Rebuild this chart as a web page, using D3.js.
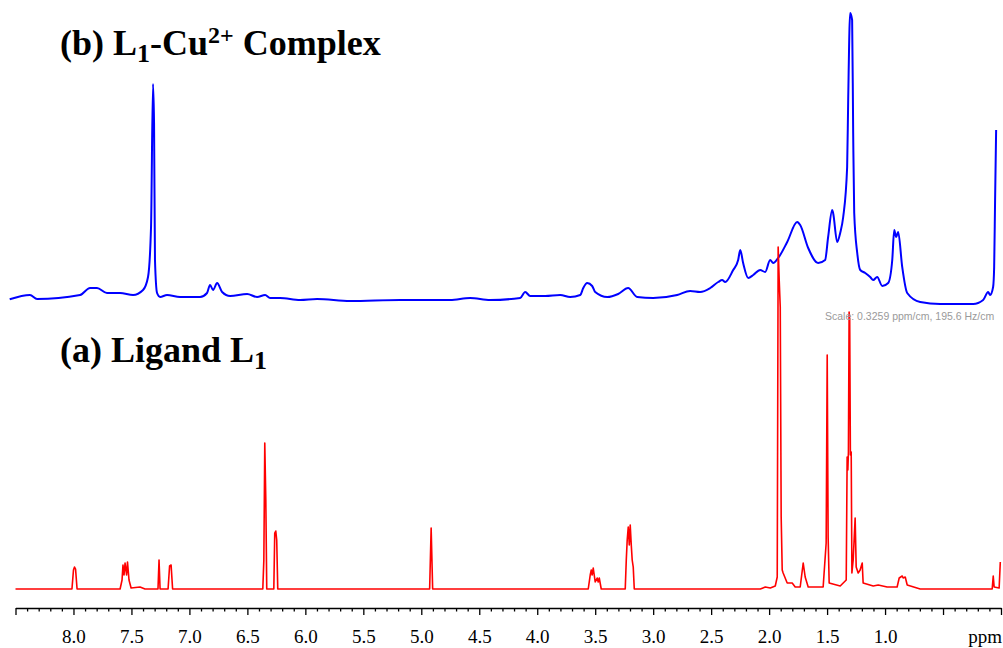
<!DOCTYPE html>
<html><head><meta charset="utf-8">
<script src="https://cdn.jsdelivr.net/npm/d3@7"></script>
<style>body{margin:0;background:#fff;overflow:hidden}</style>
</head><body>
<svg id="chart" width="1003" height="648"></svg>
<script>
// (b) L1-Cu2+ complex spectrum: [ppm, intensity]
const complexSpectrum = [
 [8.55,0.7],[8.375,5],[8.314,1],[7.943,5],[7.857,12],[7.797,12],[7.711,7],[7.598,7],[7.486,5],[7.400,10],
 [7.357,23],[7.331,73],[7.314,216],[7.305,177],[7.297,40],[7.279,7],[7.253,3],[7.193,5],[7.081,3],[6.908,3],
 [6.848,7],[6.822,15],[6.796,10],[6.761,17],[6.718,8],[6.649,4],[6.502,6],[6.416,3],[6.347,5],[6.304,2],
 [6.218,2],[6.045,0],[5.899,1],[5.614,-1],[5.183,0],[4.751,0],[4.579,2],[4.406,0],[4.147,2],[4.104,8],
 [4.061,4],[3.931,4],[3.802,5],[3.716,3],[3.629,5],[3.603,12],[3.569,17],[3.526,14],[3.500,8],[3.396,3],
 [3.302,6],[3.216,12],[3.138,3],[3.000,2],[2.793,5],[2.681,9],[2.595,8],[2.508,12],[2.439,18],[2.405,20],
 [2.379,18],[2.310,30],[2.267,40],[2.249,50],[2.224,37],[2.180,22],[2.137,25],[2.077,30],[2.034,28],[1.991,40],
 [1.965,37],[1.922,42],[1.844,58],[1.758,78],[1.732,75],[1.663,52],[1.577,37],[1.517,40],[1.491,63],[1.456,90],
 [1.448,87],[1.413,58],[1.387,67],[1.361,83],[1.327,133],[1.318,200],[1.301,287],[1.284,280],[1.275,167],[1.266,87],
 [1.240,47],[1.214,30],[1.171,27],[1.128,23],[1.102,20],[1.068,23],[1.024,14],[0.973,17],[0.938,40],[0.921,70],
 [0.904,63],[0.887,68],[0.852,33],[0.809,7],[0.697,-2],[0.525,-4],[0.240,-4],[0.154,0],[0.111,8],[0.094,5],
 [0.068,13],[0.059,33],[0.051,100],[0.042,170]
];
// (a) Ligand L1 spectrum: [ppm, intensity]
const ligandSpectrum = [
 [8.50,0],[8.013,0],[8.0,19],[7.991,22],[7.982,20],[7.969,0],[7.598,0],[7.581,9],[7.573,24],[7.564,14],
 [7.555,26],[7.542,14],[7.534,27],[7.521,9],[7.503,1],[7.426,2],[7.383,0],[7.271,0],[7.262,29],[7.253,0],
 [7.184,0],[7.171,23],[7.158,24],[7.145,0],[6.367,0],[6.358,29],[6.350,146],[6.341,89],[6.333,0],[6.272,0],
 [6.264,56],[6.255,58],[6.247,49],[6.238,0],[4.928,0],[4.915,61],[4.902,0],[3.560,0],[3.543,14],[3.534,19],
 [3.526,14],[3.517,21],[3.500,7],[3.483,11],[3.474,7],[3.465,11],[3.448,0],[3.241,0],[3.232,29],[3.224,49],
 [3.215,62],[3.206,44],[3.198,64],[3.189,44],[3.181,29],[3.172,22],[3.163,0],[2.076,0],[2.033,2],[1.990,1],
 [1.947,3],[1.930,12],[1.922,342],[1.913,309],[1.904,282],[1.896,72],[1.887,19],[1.879,16],[1.844,6],[1.801,6],
 [1.775,2],[1.732,2],[1.706,26],[1.689,12],[1.663,2],[1.534,2],[1.508,46],[1.499,234],[1.491,52],[1.482,6],
 [1.387,3],[1.335,9],[1.327,132],[1.321,119],[1.316,137],[1.310,277],[1.305,269],[1.299,134],[1.292,137],[1.286,16],
 [1.275,29],[1.258,71],[1.249,22],[1.232,16],[1.215,19],[1.197,26],[1.189,6],[1.102,3],[1.059,4],[0.982,2],
 [0.896,2],[0.878,11],[0.852,13],[0.844,11],[0.826,12],[0.809,4],[0.697,0],[0.076,0],[0.067,13],[0.059,2],
 [0.016,1],[0.006,27]
];
const majorTicks = [8.5,8.0,7.5,7.0,6.5,6.0,5.5,5.0,4.5,4.0,3.5,3.0,2.5,2.0,1.5,1.0,0.5,0.0];
const tickLabels = {"8":"8.0","7.5":"7.5","7":"7.0","6.5":"6.5","6":"6.0","5.5":"5.5","5":"5.0","4.5":"4.5","4":"4.0","3.5":"3.5","3":"3.0","2.5":"2.5","2":"2.0","1.5":"1.5","1":"1.0"};
const axisUnit = "ppm";
const scaleNote = "Scale: 0.3259 ppm/cm, 195.6 Hz/cm";

const SERIF = "Liberation Serif, Times New Roman, Times, serif";
const svg = d3.select("#chart");
const x = d3.scaleLinear().domain([8.5, 0]).range([15.5, 1001]);
const yComplex = d3.scaleLinear().domain([0, 300]).range([300, 0]);
const yLigand = d3.scaleLinear().domain([0, 350]).range([589, 239]);

const lineC = d3.line().x(d => x(d[0])).y(d => yComplex(d[1])).curve(d3.curveMonotoneX);
const lineL = d3.line().x(d => x(d[0])).y(d => yLigand(d[1]));

svg.append("path").datum(complexSpectrum).attr("d", lineC)
  .attr("fill", "none").attr("stroke", "#0000ff").attr("stroke-width", 2).attr("stroke-linejoin", "round");
svg.append("path").datum(ligandSpectrum).attr("d", lineL)
  .attr("fill", "none").attr("stroke", "#ff0000").attr("stroke-width", 1.6).attr("stroke-linejoin", "round");

// axis
const axisY = 608;
const minorTicks = d3.range(0, 86).map(i => i / 10).filter(v => Math.abs(v * 2 - Math.round(v * 2)) > 1e-6);
const gMinor = svg.append("g").attr("transform", `translate(0,${axisY})`)
  .call(d3.axisBottom(x).tickValues(minorTicks).tickSize(3.5).tickFormat(""));
const gMajor = svg.append("g").attr("transform", `translate(0,${axisY})`)
  .attr("font-family", SERIF).attr("font-size", 19)
  .call(d3.axisBottom(x).tickValues(majorTicks).tickSize(7).tickSizeOuter(0)
    .tickFormat(d => tickLabels[String(+d.toFixed(1))] || ""));
gMajor.attr("font-family", SERIF).attr("font-size", 19);
gMinor.select(".domain").remove();
[gMinor, gMajor].forEach(g => g.selectAll("line").attr("stroke", "#000").attr("stroke-width", 1.3));
gMajor.select(".domain").attr("stroke", "#000").attr("stroke-width", 1.6);
gMajor.selectAll("text").attr("y", 35).attr("dy", 0)
  .style("font-family", SERIF).style("font-size", "19px").attr("fill", "#000");
svg.append("text").attr("x", x(0) + 1).attr("y", axisY + 35).attr("text-anchor", "end")
  .style("font-family", SERIF).style("font-size", "19px").text(axisUnit);

// scale note
svg.append("text").attr("x", 825).attr("y", 320)
  .style("font-family", "Liberation Sans, Arial, sans-serif").style("font-size", "10.5px")
  .attr("fill", "#9a9a9a").text(scaleNote);

// titles
function title(yb, parts) {
  const t = svg.append("text").attr("x", 60).attr("y", yb)
    .style("font-family", SERIF).style("font-weight", "bold")
    .style("font-size", "36px").attr("fill", "#000");
  parts.forEach(p => {
    const s = t.append("tspan").text(p.t);
    if (p.sub) s.style("font-size", "26px").attr("dy", 7);
    if (p.sup) s.style("font-size", "24px").attr("dy", -12);
    if (p.back) s.attr("dy", p.back);
  });
}
title(55, [{t:"(b) L"},{t:"1",sub:true},{t:"-Cu",back:-7},{t:"2+",sup:true},{t:" Complex",back:12}]);
title(362, [{t:"(a) Ligand L"},{t:"1",sub:true}]);
</script>
</body></html>
